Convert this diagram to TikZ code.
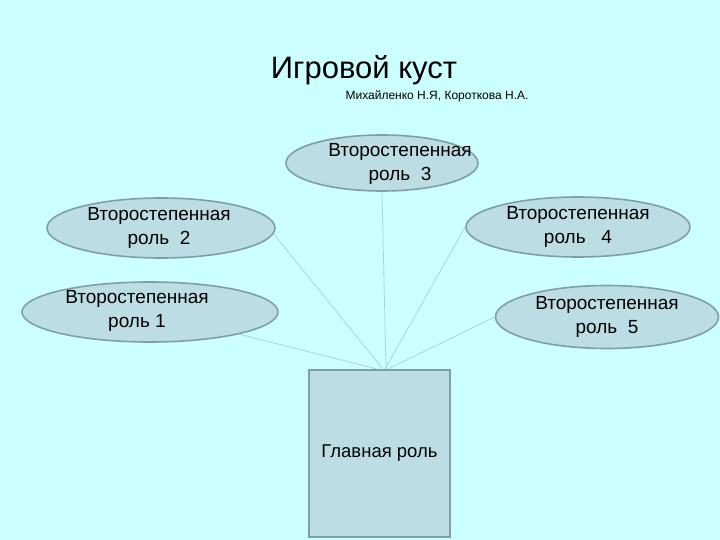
\documentclass[tikz,border=0pt]{standalone}
\usepackage{fontspec}
\setmainfont{Liberation Sans}
\usetikzlibrary{shapes.geometric}
\definecolor{bg}{HTML}{CCFFFF}
\definecolor{shapefill}{HTML}{BBDDE3}
\definecolor{shapeline}{HTML}{7F9FA5}
\definecolor{conn}{HTML}{A8D6DA}
\tikzset{
  role/.style={ellipse, draw=shapeline, fill=shapefill, line width=1.6pt, inner sep=0pt},
  roletext/.style={align=center, font=\fontsize{19}{24}\selectfont, inner sep=0pt},
  mainbox/.style={rectangle, draw=shapeline, fill=shapefill, line width=1.4pt,
    minimum width=141pt, minimum height=167pt, font=\fontsize{18.5}{22}\selectfont},
  conline/.style={draw=conn, line width=0.8pt}
}
\begin{document}
\begin{tikzpicture}[x=1pt,y=-1pt]
\fill[bg] (0,0) rectangle (720,540);
\useasboundingbox (0,0) rectangle (720,540);
\node[font=\fontsize{31}{34}\selectfont] (title) at (364,70) {Игровой куст};
\node[font=\fontsize{12}{14}\selectfont] (sub) at (437,96) {Михайленко Н.Я, Короткова Н.А.};
\node[mainbox] (main) at (379.5,453.5) {Главная роль};
\coordinate (hub) at (383,369);
\node[role, minimum width=192pt, minimum height=56pt] (r3) at (382,163) {};
\node[roletext] (t3) at (400,164) {Второстепенная\\роль\ \ 3};
\node[role, minimum width=228pt, minimum height=60pt] (r2) at (161,228) {};
\node[roletext] (t2) at (159,228) {Второстепенная\\роль\ \ 2};
\node[role, minimum width=224pt, minimum height=60pt] (r4) at (578,227) {};
\node[roletext] (t4) at (578,227) {Второстепенная\\роль\ \ \ 4};
\node[role, minimum width=256pt, minimum height=60pt] (r1) at (150,312) {};
\node[roletext] (t1) at (137,311) {Второстепенная\\роль 1};
\node[role, minimum width=223pt, minimum height=63pt] (r5) at (607,317) {};
\node[roletext] (t5) at (607,317) {Второстепенная\\роль\ \ 5};
\draw[conline] (r3.south) -- ([xshift=3pt]hub);
\draw[conline] (r2.-3) -- (hub);
\draw[conline] (r4.west) -- ([xshift=2pt]hub);
\draw[conline] (r1.-14) -- ([xshift=-6pt]hub);
\draw[conline] (r5.west) -- ([xshift=5pt]hub);
\end{tikzpicture}
\end{document}
